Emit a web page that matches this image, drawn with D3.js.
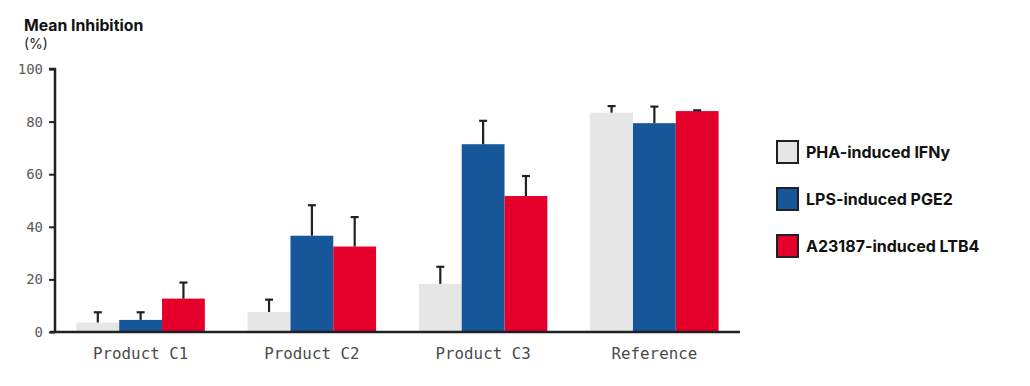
<!DOCTYPE html>
<html><head><meta charset="utf-8">
<script src="https://cdn.jsdelivr.net/npm/d3@7"></script>
<style>body{margin:0;background:#fff}svg{display:block}</style>
</head><body><svg id="c" width="1030" height="386"></svg>
<script>
const categories = ["Product C1","Product C2","Product C3","Reference"];
const seriesNames = ["PHA-induced IFNy","LPS-induced PGE2","A23187-induced LTB4"];
const seriesColors = ["#e6e6e6","#155799","#e4002b"];
const phaValues = [3.6, 7.6, 18.3, 83.4];
const phaErrors = [3.9, 4.7, 6.5, 2.5];
const lpsValues = [4.6, 36.6, 71.4, 79.4];
const lpsErrors = [2.9, 11.6, 8.9, 6.3];
const ltbValues = [12.7, 32.5, 51.7, 84.0];
const ltbErrors = [6.1, 11.2, 7.6, 0.3];
const yTicks = [0,20,40,60,80,100];

const values = [phaValues, lpsValues, ltbValues];
const errors = [phaErrors, lpsErrors, ltbErrors];
const svg = d3.select("#c");
const x = d3.scaleBand().domain(categories).range([55,740]).paddingInner(0.25).paddingOuter(0.125);
const xs = d3.scaleBand().domain(d3.range(3)).range([0, x.bandwidth()]);
const y = d3.scaleLinear().domain([0,100]).range([332,69]);
const ink = "#231f26";

const data = [];
categories.forEach((c,i)=>values.forEach((v,s)=>data.push({c,s,v:v[i],e:errors[s][i]})));

svg.append("g").selectAll("rect").data(data).join("rect")
  .attr("x",d=>x(d.c)+xs(d.s)).attr("width",xs.bandwidth())
  .attr("y",d=>y(d.v)).attr("height",d=>y(0)-y(d.v))
  .attr("fill",d=>seriesColors[d.s]);

const eb = svg.append("g").attr("stroke",ink).attr("stroke-width",2.2);
eb.selectAll("line.v").data(data).join("line")
  .attr("x1",d=>x(d.c)+xs(d.s)+xs.bandwidth()/2).attr("x2",d=>x(d.c)+xs(d.s)+xs.bandwidth()/2)
  .attr("y1",d=>y(d.v)).attr("y2",d=>y(d.v+d.e));
eb.selectAll("line.h").data(data).join("line")
  .attr("x1",d=>x(d.c)+xs(d.s)+xs.bandwidth()/2-4).attr("x2",d=>x(d.c)+xs(d.s)+xs.bandwidth()/2+4)
  .attr("y1",d=>y(d.v+d.e)).attr("y2",d=>y(d.v+d.e));

// y axis
const ya = svg.append("g").attr("transform","translate(55,0)")
  .call(d3.axisLeft(y).tickValues(yTicks).tickSize(6).tickPadding(6));
ya.select(".domain").attr("stroke",ink).attr("stroke-width",2.5).attr("d","M-6,69H0V332");
ya.selectAll(".tick line").attr("stroke",ink).attr("stroke-width",2);
ya.selectAll(".tick text").attr("font-family","'DejaVu Sans Mono', monospace").attr("font-size",14).attr("fill","#5a5a5a");

// x axis
const xa = svg.append("g").attr("transform","translate(0,332)")
  .call(d3.axisBottom(x).tickSize(0).tickPadding(16));
xa.select(".domain").attr("stroke",ink).attr("stroke-width",2.5).attr("d","M50,0H740");
xa.selectAll(".tick text").attr("font-family","'DejaVu Sans Mono', monospace").attr("font-size",15.8).attr("fill","#4a4a4a");

// title
svg.append("text").attr("x",24).attr("y",31).text("Mean Inhibition")
  .attr("font-family","Inter, sans-serif").attr("font-weight",700).attr("font-size",15.8).attr("fill","#111");
svg.append("text").attr("x",24).attr("y",49).text("(%)")
  .attr("font-family","Inter, sans-serif").attr("font-size",14).attr("fill","#222");

// legend
const lg = svg.append("g").selectAll("g").data(seriesNames).join("g")
  .attr("transform",(d,i)=>`translate(777,${141+i*47})`);
lg.append("rect").attr("width",21).attr("height",22).attr("fill",(d,i)=>seriesColors[i]).attr("stroke",ink).attr("stroke-width",2);
lg.append("text").attr("x",29).attr("y",17).text(d=>d)
  .attr("font-family","Inter, sans-serif").attr("font-weight",700).attr("font-size",16).attr("fill","#111");
</script></body></html>
